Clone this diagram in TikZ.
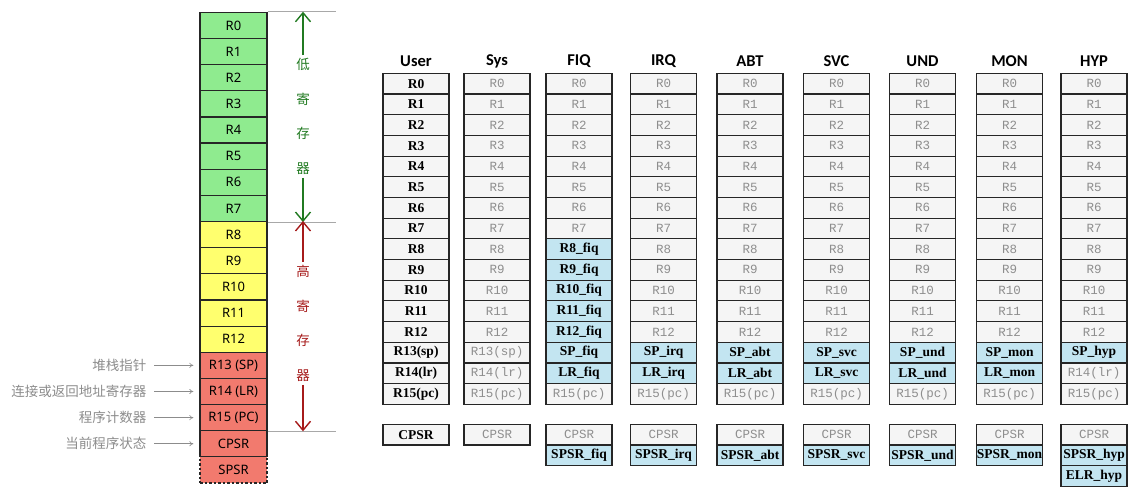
\documentclass[tikz,border=0pt]{standalone}
\usepackage{fontspec}
\usepackage[rgb]{xcolor}
\usepackage{tikz}
\usetikzlibrary{arrows.meta}
\newfontfamily\cjk{Noto Sans CJK SC}
\newfontfamily\regfont{Noto Sans}
\newfontfamily\headfont{Carlito}
\newfontfamily\ownfont{Liberation Serif}
\newfontfamily\sharefont{Liberation Mono}
\definecolor{lowgreen}{HTML}{8FEB8F}
\definecolor{highyellow}{HTML}{FFFF6E}
\definecolor{bankred}{HTML}{F27A6E}
\definecolor{bankblue}{HTML}{C3E5F1}
\definecolor{cellfill}{HTML}{F5F5F5}
\definecolor{sharedgray}{HTML}{8E8E8E}
\definecolor{notegray}{HTML}{8C8C8C}
\definecolor{lowdark}{HTML}{217A21}
\definecolor{highdark}{HTML}{A61B1B}
\definecolor{guidegray}{HTML}{A8A8A8}

\begin{document}
\begin{tikzpicture}[x=1pt, y=-1pt,
  reg/.style={draw=black!85, line width=1.2pt, minimum width=67pt, minimum height=26.15pt, inner sep=0pt, font=\regfont\fontsize{13}{15}\selectfont},
  low/.style={reg, fill=lowgreen},
  high/.style={reg, fill=highyellow},
  banked/.style={reg, fill=bankred},
  cell/.style={draw=black!85, line width=1.1pt, fill=cellfill, minimum width=66pt, minimum height=20.69pt, inner sep=0pt},
  own/.style={cell, font=\ownfont\bfseries\fontsize{13.5}{15}\selectfont},
  shared/.style={cell, text=sharedgray, font=\sharefont\fontsize{12.5}{14}\selectfont},
  bank/.style={own, fill=bankblue},
  mode/.style={font=\headfont\bfseries\fontsize{16.5}{18}\selectfont},
  note/.style={text=notegray, anchor=east, font=\cjk\fontsize{13.5}{16}\selectfont},
  pointer/.style={draw=notegray, line width=0.6pt, shorten <=4pt, shorten >=6pt, -{To[length=4pt,width=5pt]}},
  side/.style={align=center, font=\cjk\fontsize{13.5}{34.5}\selectfont},
  span/.style={line width=1.4pt, -{Straight Barb[length=9pt,width=15pt]}},
  guide/.style={draw=guidegray, line width=0.8pt}
]
\useasboundingbox (0,0) rectangle (1132,491);

% register file on the left
\foreach \i in {0,...,7}
  \node[low] (reg-\i) at (233.5, {12.3+26.15*(\i+0.5)}) {R\i};
\foreach \i in {8,...,12}
  \node[high] (reg-\i) at (233.5, {12.3+26.15*(\i+0.5)}) {R\i};
\foreach \i/\t in {13/R13 (SP), 14/R14 (LR), 15/R15 (PC), 16/CPSR}
  \node[banked] (reg-\i) at (233.5, {12.3+26.15*(\i+0.5)}) {\t};
\node[banked, dash pattern=on 2.5pt off 2pt] (reg-17) at (233.5, {12.3+26.15*17.5}) {SPSR};

% notes with pointers
\foreach \i/\t in {13/堆栈指针, 14/连接或返回地址寄存器, 15/程序计数器, 16/当前程序状态}
{
  \node[note] (note-\i) at (150, {12.3+26.15*(\i+0.5)}) {\t};
  \draw[pointer] (note-\i) -- (reg-\i);
}

% low / high ranges
\draw[guide] (reg-0.north east) -- ++(68,0);
\draw[guide] (reg-7.south east) -- ++(68,0);
\draw[guide] (reg-15.south east) -- ++(68,0);
\node[side, text=lowdark] (low-label) at (303, 116.5) {低\\寄\\存\\器};
\node[side, text=highdark] (high-label) at (303, 323.4) {高\\寄\\存\\器};
\draw[span, lowdark] (low-label) -- (low-label |- reg-0.north);
\draw[span, lowdark] (low-label) -- (low-label |- reg-7.south);
\draw[span, highdark] (high-label) -- (high-label |- reg-8.north);
\draw[span, highdark] (high-label) -- (high-label |- reg-15.south);

% mode headers
\foreach \m/\x in {User/416, Sys/497, FIQ/579, IRQ/663.5, ABT/750, SVC/836.5, UND/922.5, MON/1009.5, HYP/1094}
  \node[mode] (head-\m) at (\x, 61) {\m};

% user registers
\foreach \r in {0,...,12}
  \node[own] (User-\r) at (416, {73.3+20.69*(\r+0.5)}) {R\r};
\foreach \r/\t in {13/R13(sp), 14/R14(lr), 15/R15(pc)}
  \node[own] (User-\r) at (416, {73.3+20.69*(\r+0.5)}) {\t};
\node[own] (User-cpsr) at (416, 434.65) {CPSR};

% shared registers
\foreach \m/\x in {Sys/497, FIQ/579, IRQ/663.5, ABT/750, SVC/836.5, UND/922.5, MON/1009.5, HYP/1094}
{
  \foreach \r in {0,...,7}
    \node[shared] (\m-\r) at (\x, {73.3+20.69*(\r+0.5)}) {R\r};
  \node[shared] (\m-15) at (\x, {73.3+20.69*15.5}) {R15(pc)};
  \node[shared] (\m-cpsr) at (\x, 434.65) {CPSR};
}
\foreach \m/\x in {Sys/497, IRQ/663.5, ABT/750, SVC/836.5, UND/922.5, MON/1009.5, HYP/1094}
  \foreach \r in {8,...,12}
    \node[shared] (\m-\r) at (\x, {73.3+20.69*(\r+0.5)}) {R\r};
\node[shared] (Sys-13) at (497, {73.3+20.69*13.5}) {R13(sp)};
\node[shared] (Sys-14) at (497, {73.3+20.69*14.5}) {R14(lr)};
\node[shared] (HYP-14) at (1094, {73.3+20.69*14.5}) {R14(lr)};

% banked registers
\foreach \r in {8,...,12}
  \node[bank] (FIQ-\r) at (579, {73.3+20.69*(\r+0.5)}) {R\r\_fiq};
\foreach \m/\x/\s in {FIQ/579/fiq, IRQ/663.5/irq, ABT/750/abt, SVC/836.5/svc, UND/922.5/und, MON/1009.5/mon, HYP/1094/hyp}
{
  \node[bank] (\m-13) at (\x, {73.3+20.69*13.5}) {SP\_\s};
  \node[bank] (\m-spsr) at (\x, 455.34) {SPSR\_\s};
}
\foreach \m/\x/\s in {FIQ/579/fiq, IRQ/663.5/irq, ABT/750/abt, SVC/836.5/svc, UND/922.5/und, MON/1009.5/mon}
  \node[bank] (\m-14) at (\x, {73.3+20.69*14.5}) {LR\_\s};
\node[bank] (HYP-elr) at (1094, 476.03) {ELR\_hyp};

\end{tikzpicture}
\end{document}
